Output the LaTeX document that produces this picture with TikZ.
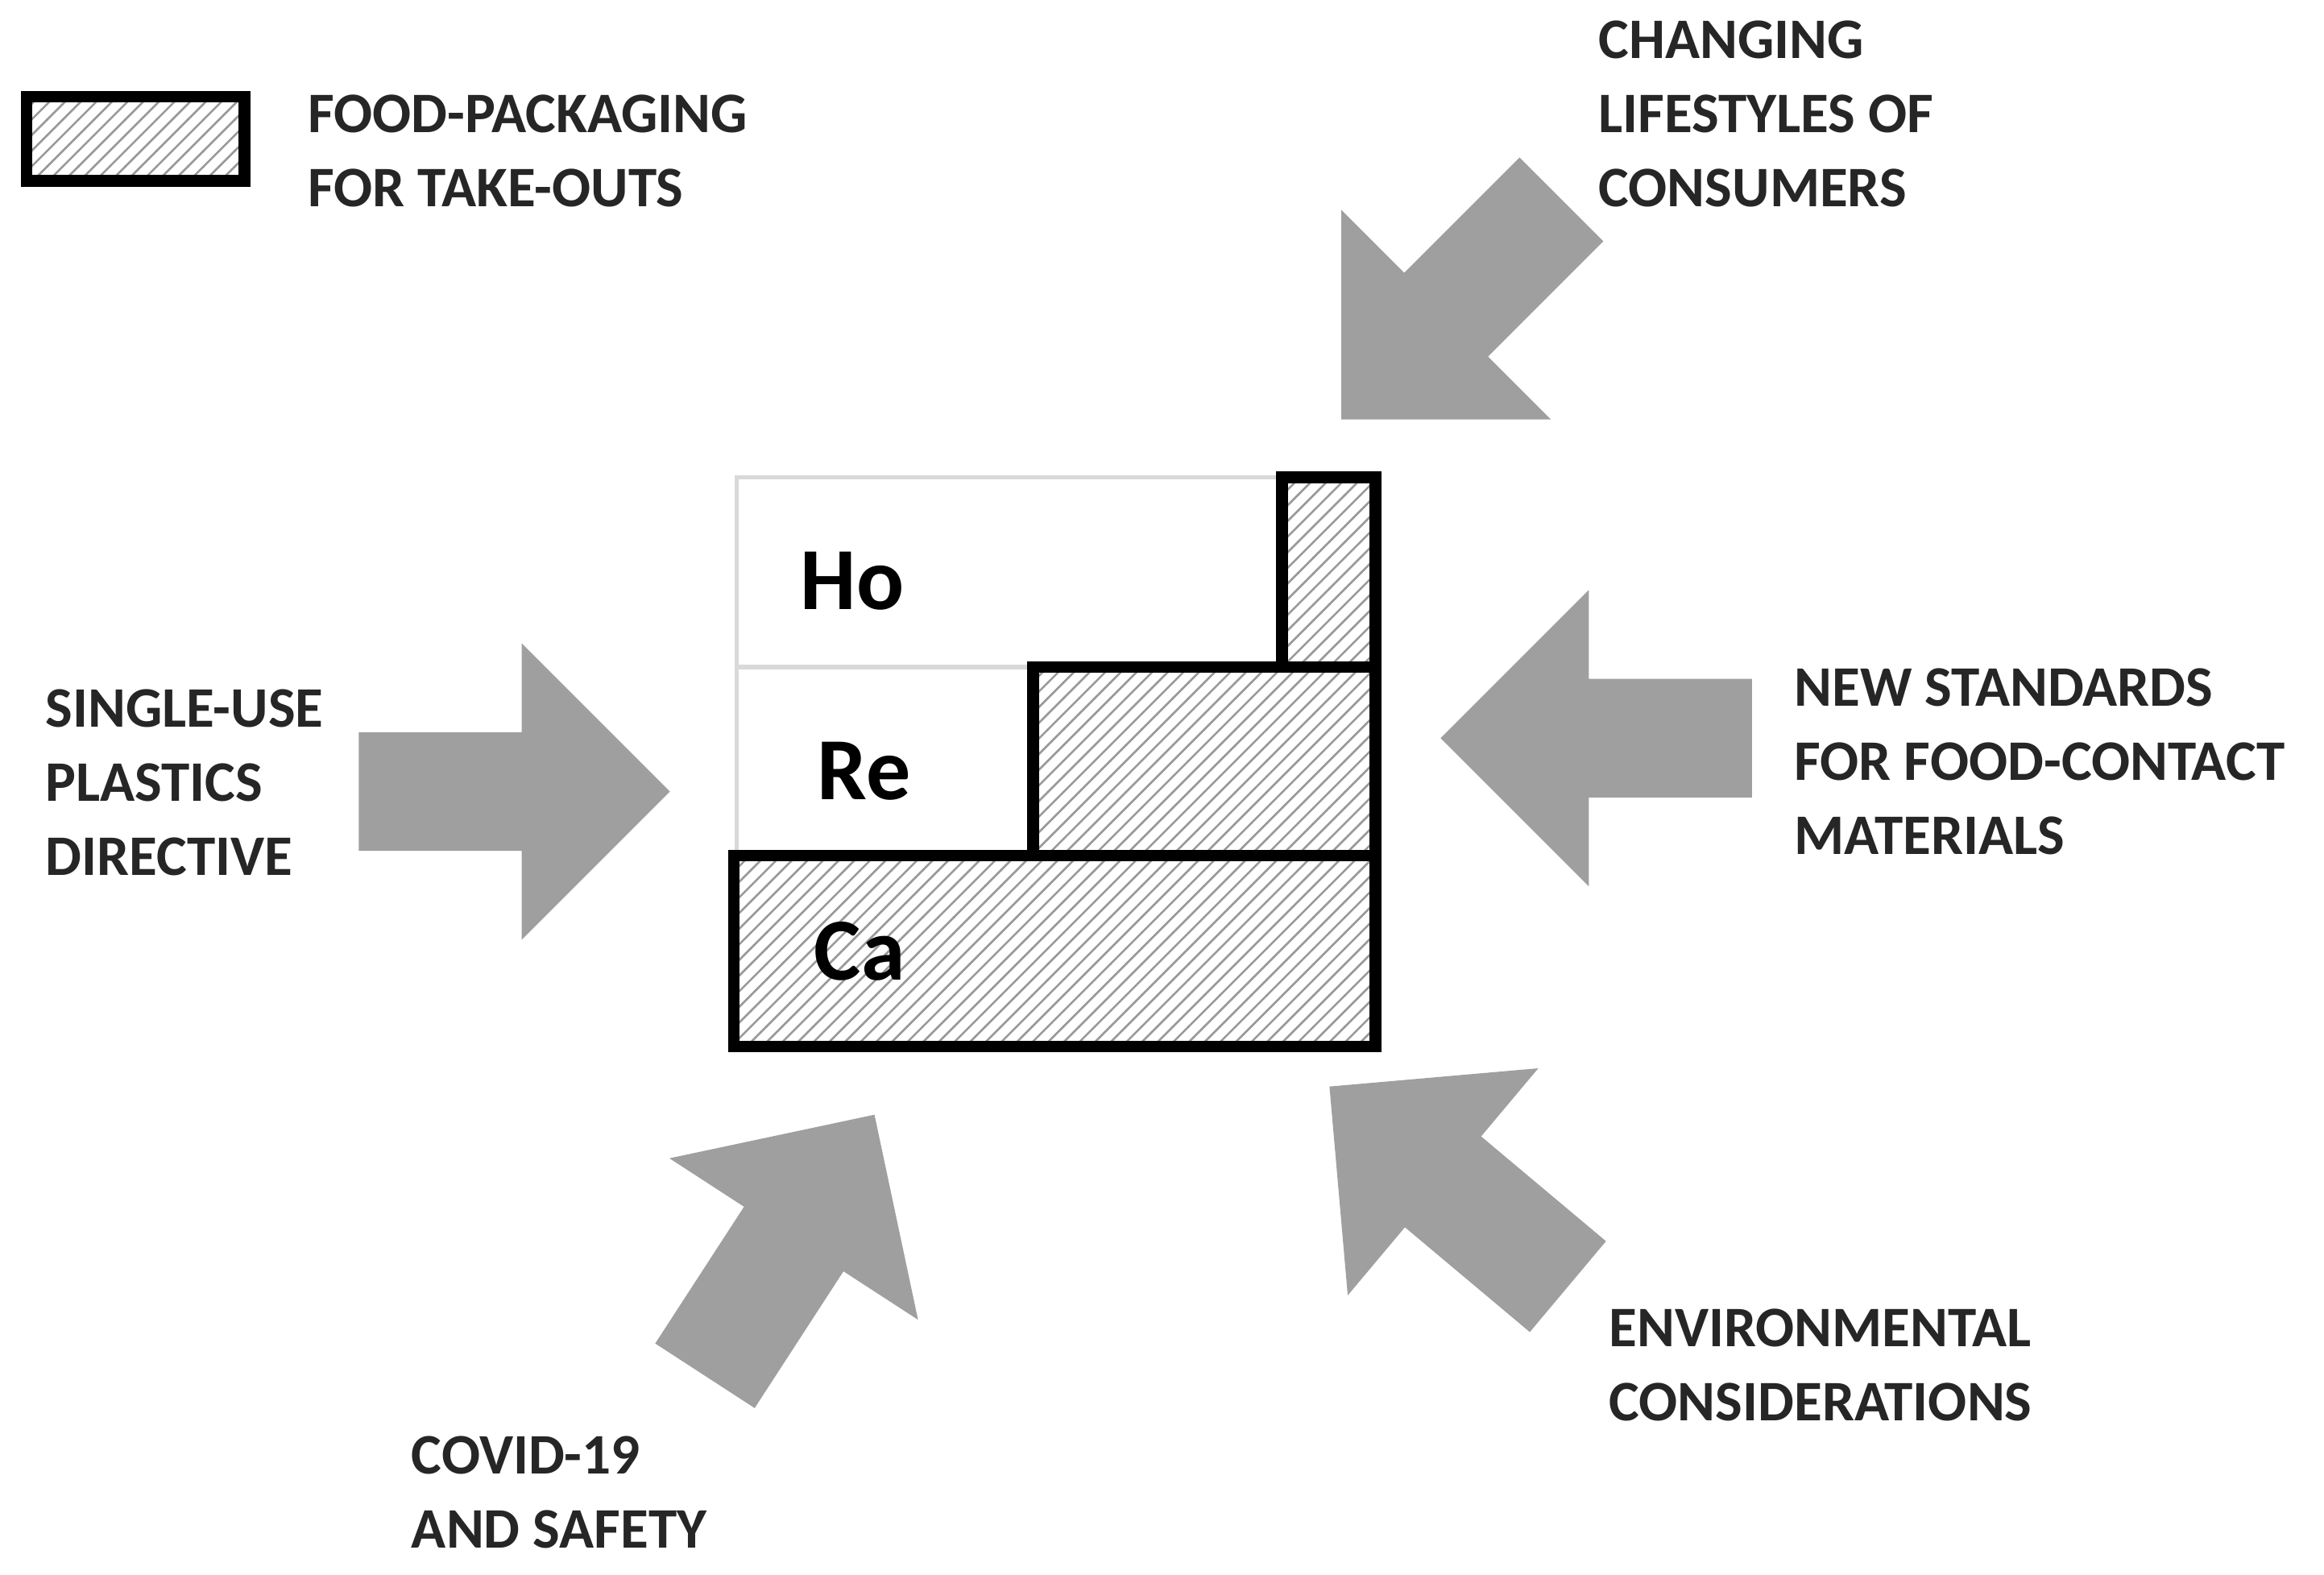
\documentclass[tikz,border=0pt]{standalone}
\usepackage{fontspec}
\setmainfont{Carlito}
\usetikzlibrary{patterns}
\tikzset{
  hatched/.style={draw=black,line width=2.2pt,pattern=north east lines,pattern color=gray!80,fill opacity=1},
  plain/.style={draw=gray!30,line width=0.8pt,fill=white},
  label/.style={font=\fontsize{11}{14.2}\selectfont\bfseries,align=left,anchor=west,inner sep=0pt,text=black!85},
  letter/.style={font=\fontsize{17}{20}\selectfont\bfseries,text=black},
  blockarrow/.style={fill=gray!75,draw=none}
}
\newcommand{\pushArrow}[3]{%
  \fill[blockarrow,shift={(#1,#2)},rotate=#3]
    (0,0) -- (-100,100) -- (-100,40) -- (-210,40) -- (-210,-40) -- (-100,-40) -- (-100,-100) -- cycle;}
\begin{document}
\begin{tikzpicture}[x=0.01cm,y=-0.01cm]
\useasboundingbox (0,0) rectangle (1568,1062);

    % legend
    \draw[hatched] (18,65) rectangle (165,122);
    \node[label] (legend) at (207,102) {FOOD-PACKAGING\\FOR TAKE-OUTS};

    % stacked chart
    \draw[plain]   (497,322) rectangle (865,450);
    \draw[plain]   (497,450) rectangle (697,577);
    \draw[hatched] (865,322) rectangle (928,450);
    \draw[hatched] (697,450) rectangle (928,577);
    \draw[hatched] (495,577) rectangle (928,706);
    \node[letter] (ho) at (575,392) {Ho};
    \node[letter] (re) at (583,520) {Re};
    \node[letter] (ca) at (580,642) {Ca};

    % drivers
    \pushArrow{452}{534}{0}
    \pushArrow{972}{498}{180}
    \pushArrow{905}{283}{225}
    \pushArrow{897}{733}{140}
    \pushArrow{590}{752}{57}

    \node[label] (lifestyles) at (1078,77)  {CHANGING\\LIFESTYLES OF\\CONSUMERS};
    \node[label] (directive)  at (30,528)   {SINGLE-USE\\PLASTICS\\DIRECTIVE};
    \node[label] (standards)  at (1210,514) {NEW STANDARDS\\FOR FOOD-CONTACT\\MATERIALS};
    \node[label] (environ)    at (1085,921) {ENVIRONMENTAL\\CONSIDERATIONS};
    \node[label] (covid)      at (277,1007) {COVID-19\\AND SAFETY};

\end{tikzpicture}
\end{document}
